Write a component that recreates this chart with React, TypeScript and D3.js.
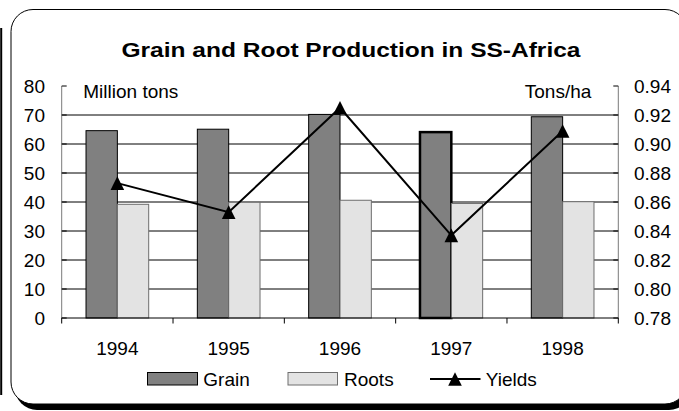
import React from "react";
import * as d3 from "d3";

const years = ["1994", "1995", "1996", "1997", "1998"];
const grain = [64.6, 65.1, 70.2, 64.1, 69.4];
const roots = [39.2, 39.9, 40.6, 39.5, 40.1];
const yields = [0.873, 0.853, 0.925, 0.837, 0.909];
const leftTicks = [0, 10, 20, 30, 40, 50, 60, 70, 80];
const rightTicks = [0.78, 0.8, 0.82, 0.84, 0.86, 0.88, 0.9, 0.92, 0.94];
const highlighted = "1997";

const W = 679;
const H = 411;
const plotL = 61.7;
const plotR = 618.3;
const plotT = 86;
const plotB = 318;
const FONT = "'Liberation Sans', Arial, Helvetica, sans-serif";

export default function App() {
  const x = d3.scaleBand<string>().domain(years).range([plotL, plotR]).paddingInner(0).paddingOuter(0);
  const yL = d3.scaleLinear().domain([0, 80]).range([plotB, plotT]);
  const yR = d3.scaleLinear().domain([0.78, 0.94]).range([plotB, plotT]);
  const bw = x.bandwidth();
  const gap = bw * 0.2185;
  const barW = (bw - 2 * gap) / 2;

  const line = d3
    .line<number>()
    .x((_, i) => (x(years[i]) as number) + bw / 2)
    .y((d) => yR(d));

  const tri = (cx: number, cy: number, s = 6.8) =>
    `M${cx},${cy - s}L${cx + s},${cy + s}L${cx - s},${cy + s}Z`;

  const fs = 19;

  return (
    <svg
      width={W}
      height={H}
      style={{ position: "absolute", left: 0, top: 0, background: "#fff" }}
      fontFamily={FONT}
    >
      {/* stray left edge line */}
      <line x1={1.2} x2={1.2} y1={28} y2={395} stroke="#000" strokeWidth={2} />
      {/* frame with shadow */}
      <rect x={15} y={15} width={676} height={395} rx={22} fill="#000" />
      <rect x={11} y={9.5} width={676} height={394.5} rx={22} fill="#fff" stroke="#000" strokeWidth={1} />

      {/* title */}
      <text x={121.5} y={57} fontSize={20.8} fontWeight="bold" textLength={459} lengthAdjust="spacingAndGlyphs">
        Grain and Root Production in SS-Africa
      </text>

      {/* gridlines */}
      {leftTicks.filter((t) => t > 0 && t < 80).map((t) => (
        <line key={"g" + t} x1={plotL} x2={plotR} y1={yL(t)} y2={yL(t)} stroke="#000" strokeWidth={1} />
      ))}

      {/* bars */}
      {years.map((yr, i) => {
        const x0 = (x(yr) as number) + gap;
        const hl = yr === highlighted;
        return (
          <g key={yr}>
            <rect
              x={x0}
              y={yL(grain[i])}
              width={barW}
              height={plotB - yL(grain[i])}
              fill="#808080"
              stroke="#000"
              strokeWidth={hl ? 2.5 : 1}
            />
            <rect
              x={x0 + barW}
              y={yL(roots[i])}
              width={barW}
              height={plotB - yL(roots[i])}
              fill="#e3e3e3"
              stroke="#6e6e6e"
              strokeWidth={1}
            />
          </g>
        );
      })}

      {/* axes */}
      <line x1={plotL} x2={plotL} y1={plotT} y2={plotB} stroke="#7a7a7a" strokeWidth={1} />
      <line x1={plotR} x2={plotR} y1={plotT} y2={plotB} stroke="#7a7a7a" strokeWidth={1} />
      {leftTicks.map((t) => (
        <line key={"lt" + t} x1={plotL} x2={plotL + 5} y1={yL(t)} y2={yL(t)} stroke="#000" />
      ))}
      {rightTicks.map((t) => (
        <line key={"rt" + t} x1={plotR - 5} x2={plotR} y1={yR(t)} y2={yR(t)} stroke="#000" />
      ))}
      <line x1={plotL} x2={plotR} y1={plotB} y2={plotB} stroke="#000" strokeWidth={1} />
      {[...years.map((yr) => x(yr) as number), plotR].map((bx, i) => (
        <line key={"bt" + i} x1={bx} x2={bx} y1={plotB} y2={plotB + 5.5} stroke="#000" />
      ))}

      {/* tick labels */}
      {leftTicks.map((t) => (
        <text key={"ll" + t} x={45} y={yL(t) + 6.8} fontSize={fs} textAnchor="end" fill="#000">
          {t}
        </text>
      ))}
      {rightTicks.map((t) => (
        <text key={"rl" + t} x={634} y={yR(t) + 6.8} fontSize={fs} textAnchor="start" fill="#000">
          {t.toFixed(2)}
        </text>
      ))}
      {years.map((yr) => (
        <text key={"xl" + yr} x={(x(yr) as number) + bw / 2} y={355} fontSize={fs} textAnchor="middle" fill="#000">
          {yr}
        </text>
      ))}

      {/* axis titles */}
      <text x={83.3} y={98} fontSize={fs} fill="#000">Million tons</text>
      <text x={591.3} y={98} fontSize={fs} textAnchor="end" fill="#000">Tons/ha</text>

      {/* yields line */}
      <path d={line(yields) as string} fill="none" stroke="#000" strokeWidth={2} />
      {yields.map((v, i) => (
        <path key={"m" + i} d={tri((x(years[i]) as number) + bw / 2, yR(v))} fill="#000" />
      ))}

      {/* legend */}
      <rect x={147.5} y={372.5} width={50} height={12.5} fill="#808080" stroke="#000" />
      <text x={203.3} y={386} fontSize={fs} fill="#000">Grain</text>
      <rect x={288} y={372.5} width={49.5} height={12.5} fill="#e3e3e3" stroke="#6e6e6e" />
      <text x={344} y={386} fontSize={fs} fill="#000">Roots</text>
      <line x1={430} x2={480.5} y1={379} y2={379} stroke="#000" strokeWidth={2} />
      <path d={tri(455, 379)} fill="#000" />
      <text x={485.7} y={386} fontSize={fs} fill="#000">Yields</text>
    </svg>
  );
}
